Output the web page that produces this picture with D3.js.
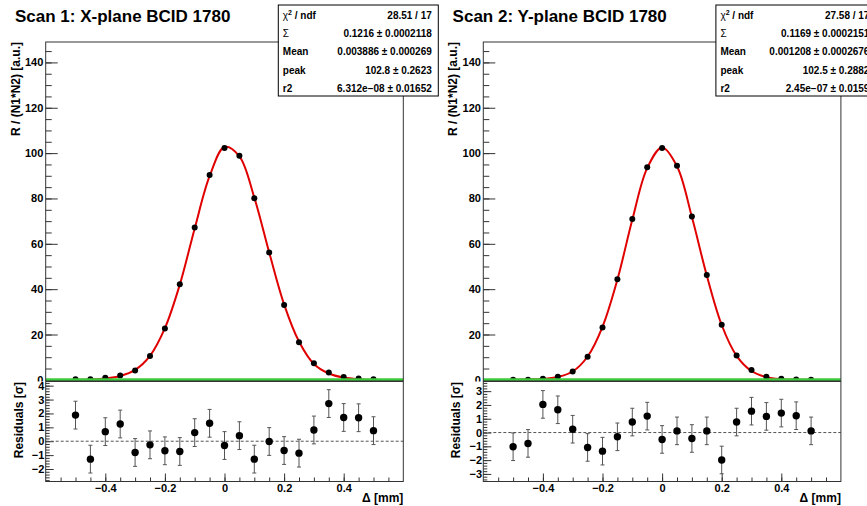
<!DOCTYPE html>
<html>
<head>
<meta charset="utf-8">
<script src="https://cdn.jsdelivr.net/npm/d3@7"></script>
<style>
  body { margin: 0; background: #fff; }
  svg { display: block; font-family: "Liberation Sans", Arial, Helvetica, sans-serif; }
</style>
</head>
<body>
<div id="chart"></div>
<script>
// Scan points, separation Delta in mm
const deltaX = [-0.5, -0.45, -0.4, -0.35, -0.3, -0.25, -0.2, -0.15, -0.1, -0.05, 0,
                0.05, 0.1, 0.15, 0.2, 0.25, 0.3, 0.35, 0.4, 0.45, 0.5];

// Scan 1 (X-plane): normalised rate, fitted curve, residuals in sigma
const scan1Rate  = [0.3, 0.3, 0.9, 1.9, 4.1, 10.5, 22.6, 42.2, 67.2, 90.3, 102.2,
                    98.8, 80.1, 56.2, 33.0, 16.6, 7.3, 3.2, 1.3, 0.6, 0.3];
const scan1Fit   = [0.1, 0.2, 0.6, 1.7, 4.4, 10.6, 22.8, 42.0, 66.8, 89.8, 102.7,
                    98.6, 80.4, 56.2, 33.3, 16.9, 7.0, 2.8, 1.0, 0.3, 0.1];
const scan1Resid = [1.88, -1.29, 0.69, 1.24, -0.81, -0.26, -0.69, -0.74, 0.62, 1.29, -0.31,
                    0.40, -1.29, -0.02, -0.67, -0.86, 0.81, 2.71, 1.71, 1.69, 0.76];

// Scan 2 (Y-plane)
const scan2Rate  = [0.1, 0.1, 0.5, 1.4, 3.7, 10.2, 23.1, 44.4, 70.9, 93.8, 102.2,
                    94.4, 72.0, 46.2, 24.3, 10.8, 4.3, 1.4, 0.5, 0.2, 0.1];
const scan2Fit   = [0.1, 0.2, 0.4, 1.3, 3.7, 10.3, 23.4, 44.2, 70.6, 93.4, 102.5,
                    94.2, 71.8, 46.0, 24.2, 10.6, 3.9, 1.2, 0.3, 0.1, 0.0];
const scan2Resid = [-1.03, -0.79, 2.04, 1.65, 0.24, -1.08, -1.35, -0.31, 0.76, 1.19, -0.50,
                    0.12, -0.43, 0.12, -1.99, 0.76, 1.55, 1.17, 1.41, 1.22, 0.12];

// Fit statistics boxes
const statNames   = ["chi2", "Σ", "Mean", "peak", "r2"];
const scan1Stats  = ["28.51 / 17", "0.1216 ± 0.0002118", "0.003886 ± 0.000269", "102.8 ± 0.2623", "6.312e−08 ± 0.01652"];
const scan2Stats  = ["27.58 / 17", "0.1169 ± 0.0002151", "0.001208 ± 0.0002676", "102.5 ± 0.2882", "2.45e−07 ± 0.0159"];

// Tick labels
const rateTicks   = [0, 20, 40, 60, 80, 100, 120, 140];
const deltaTicks  = [-0.4, -0.2, 0, 0.2, 0.4];
const resid1Ticks = [-2, -1, 0, 1, 2, 3, 4];
const resid2Ticks = [-3, -2, -1, 0, 1, 2, 3];

const svg = d3.select("#chart")
  .append("svg")
  .attr("width", 867)
  .attr("height", 506);

const frameL = 45.7, frameR = 403.3;
const topY = 42, splitY = 381, botY = 481.5;

function styleAxis(axisG, fontSize) {
  axisG.select(".domain").remove();
  axisG.selectAll(".tick line").attr("stroke", "#333");
  axisG.selectAll("text")
    .attr("fill", "#000")
    .attr("font-size", fontSize)
    .attr("font-weight", "bold")
    .attr("font-family", "'Liberation Sans', Arial, Helvetica, sans-serif");
}

function drawScan(ox, id, title, rate, fit, resid, stats, residDomain, residTicks) {
  const g = svg.append("g").attr("transform", `translate(${ox},0)`);

  const x = d3.scaleLinear().domain([-0.6, 0.6]).range([frameL, frameR]);
  const yTop = d3.scaleLinear().domain([-0.5, 149]).range([splitY, topY]);
  const yRes = d3.scaleLinear().domain(residDomain).range([botY, splitY + 0.5]);

  // ---- upper pad
  g.append("clipPath").attr("id", "clip" + id)
    .append("rect")
    .attr("x", frameL).attr("y", topY)
    .attr("width", frameR - frameL).attr("height", splitY - topY);

  const yAxis = g.append("g")
    .attr("transform", `translate(${frameL},0)`)
    .call(d3.axisLeft(yTop).tickValues(rateTicks).tickSizeInner(-12).tickSizeOuter(0).tickPadding(2.4));
  styleAxis(yAxis, 11);

  const yMinor = g.append("g")
    .attr("transform", `translate(${frameL},0)`)
    .call(d3.axisLeft(yTop).tickValues(d3.range(0, 146, 5)).tickSizeInner(-6).tickSizeOuter(0).tickFormat(""));
  styleAxis(yMinor, 11);

  const plot = g.append("g").attr("clip-path", `url(#clip${id})`);

  const pts = deltaX.map((d, i) => ({ x: d, rate: rate[i], fit: fit[i], resid: resid[i] }));

  plot.append("path")
    .datum(pts)
    .attr("fill", "none")
    .attr("stroke", "#e00000")
    .attr("stroke-width", 2)
    .attr("d", d3.line().x(d => x(d.x)).y(d => yTop(d.fit)).curve(d3.curveCatmullRom));

  plot.selectAll("circle.rate")
    .data(pts)
    .enter()
    .append("circle")
    .attr("class", "rate")
    .attr("cx", d => x(d.x))
    .attr("cy", d => yTop(d.rate))
    .attr("r", 3)
    .attr("fill", "#000");

  // baseline at zero
  g.append("line")
    .attr("x1", frameL).attr("x2", frameR)
    .attr("y1", yTop(0)).attr("y2", yTop(0))
    .attr("stroke", "#3ccc3c")
    .attr("stroke-width", 3);

  g.append("rect")
    .attr("x", frameL).attr("y", topY)
    .attr("width", frameR - frameL).attr("height", splitY - topY)
    .attr("fill", "none").attr("stroke", "#333");

  g.append("text")
    .attr("transform", `translate(19.5,${topY}) rotate(-90)`)
    .attr("text-anchor", "end")
    .attr("font-size", 12)
    .attr("font-weight", "bold")
    .text("R / (N1*N2) [a.u.]");

  g.append("text")
    .attr("x", 15).attr("y", 22)
    .attr("font-size", 17)
    .attr("font-weight", "bold")
    .text(title);

  // stat box
  const box = g.append("g").attr("transform", "translate(278.3,5)");
  box.append("rect")
    .attr("width", 160).attr("height", 91)
    .attr("fill", "#fff").attr("stroke", "#000");
  statNames.forEach((name, i) => {
    const yy = 14 + i * 18.2;
    const lab = box.append("text")
      .attr("x", 4.5).attr("y", yy)
      .attr("font-size", 10)
      .attr("font-weight", name === "Σ" ? "normal" : "bold");
    if (name === "chi2") {
      lab.append("tspan").attr("font-weight", "normal").text("χ");
      lab.append("tspan").attr("font-size", 7).attr("dy", -4).text("2");
      lab.append("tspan").attr("dy", 4).text(" / ndf");
    } else {
      lab.text(name);
    }
    box.append("text")
      .attr("x", 153.5).attr("y", yy)
      .attr("text-anchor", "end")
      .attr("font-size", 10)
      .attr("font-weight", "bold")
      .text(stats[i]);
  });

  // ---- residual pad
  g.append("rect")
    .attr("x", 0).attr("y", splitY + 0.5)
    .attr("width", 437.6).attr("height", 506 - splitY)
    .attr("fill", "#fff");

  const rAxis = g.append("g")
    .attr("transform", `translate(${frameL},0)`)
    .call(d3.axisLeft(yRes).tickValues(residTicks).tickSizeInner(-8).tickSizeOuter(0).tickPadding(1.3));
  styleAxis(rAxis, 11);

  const rMinor = g.append("g")
    .attr("transform", `translate(${frameL},0)`)
    .call(d3.axisLeft(yRes).tickValues(d3.range(Math.ceil(residDomain[0] * 5), Math.floor(residDomain[1] * 5) + 1).map(v => v / 5))
      .tickSizeInner(-4).tickSizeOuter(0).tickFormat(""));
  styleAxis(rMinor, 11);

  const xAxis = g.append("g")
    .attr("transform", `translate(0,${botY})`)
    .call(d3.axisBottom(x).tickValues(deltaTicks).tickSizeInner(-8).tickSizeOuter(0).tickPadding(2.8)
      .tickFormat(d => d === 0 ? "0" : d3.format(".1f")(d)));
  styleAxis(xAxis, 11);

  const xMinor = g.append("g")
    .attr("transform", `translate(0,${botY})`)
    .call(d3.axisBottom(x).tickValues(d3.range(-11, 12).map(v => v * 0.05)).tickSizeInner(-4).tickSizeOuter(0).tickFormat(""));
  styleAxis(xMinor, 11);

  g.append("line")
    .attr("x1", frameL).attr("x2", frameR)
    .attr("y1", yRes(0)).attr("y2", yRes(0))
    .attr("stroke", "#555")
    .attr("stroke-dasharray", "3,2");

  const bars = g.append("g").attr("stroke", "#555").attr("stroke-width", 1);
  bars.selectAll("line.err")
    .data(pts)
    .enter()
    .append("line")
    .attr("x1", d => x(d.x)).attr("x2", d => x(d.x))
    .attr("y1", d => yRes(d.resid - 1)).attr("y2", d => yRes(d.resid + 1));
  bars.selectAll("line.capTop")
    .data(pts)
    .enter()
    .append("line")
    .attr("x1", d => x(d.x) - 2).attr("x2", d => x(d.x) + 2)
    .attr("y1", d => yRes(d.resid + 1)).attr("y2", d => yRes(d.resid + 1));
  bars.selectAll("line.capBot")
    .data(pts)
    .enter()
    .append("line")
    .attr("x1", d => x(d.x) - 2).attr("x2", d => x(d.x) + 2)
    .attr("y1", d => yRes(d.resid - 1)).attr("y2", d => yRes(d.resid - 1));

  g.selectAll("circle.resid")
    .data(pts)
    .enter()
    .append("circle")
    .attr("class", "resid")
    .attr("cx", d => x(d.x))
    .attr("cy", d => yRes(d.resid))
    .attr("r", 3.7)
    .attr("fill", "#000");

  g.append("rect")
    .attr("x", frameL).attr("y", splitY + 0.5)
    .attr("width", frameR - frameL).attr("height", botY - splitY - 0.5)
    .attr("fill", "none").attr("stroke", "#333");

  g.append("text")
    .attr("transform", `translate(22.8,${splitY + 1}) rotate(-90)`)
    .attr("text-anchor", "end")
    .attr("font-size", 12)
    .attr("font-weight", "bold")
    .text("Residuals [σ]");

  g.append("text")
    .attr("x", frameR).attr("y", 501.5)
    .attr("text-anchor", "end")
    .attr("font-size", 12)
    .attr("font-weight", "bold")
    .text("Δ [mm]");
}

drawScan(0, 1, "Scan 1: X-plane BCID 1780", scan1Rate, scan1Fit, scan1Resid, scan1Stats, [-2.9, 4.3], resid1Ticks);
drawScan(437.6, 2, "Scan 2: Y-plane BCID 1780", scan2Rate, scan2Fit, scan2Resid, scan2Stats, [-3.55, 3.7], resid2Ticks);
</script>
</body>
</html>
